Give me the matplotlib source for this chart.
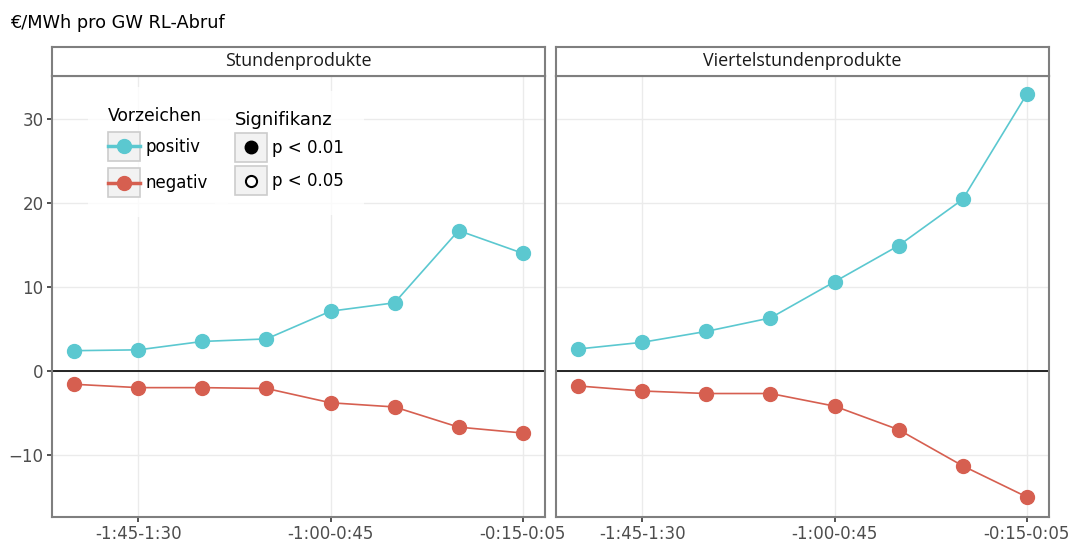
import numpy as np
import matplotlib
matplotlib.use('Agg')
import matplotlib.pyplot as plt
from matplotlib.lines import Line2D
from matplotlib.patches import Rectangle
from matplotlib.legend_handler import HandlerBase

# time slots before delivery (only every third one is labelled)
slots = ['-2:00-1:45', '-1:45-1:30', '-1:30-1:15', '-1:15-1:00',
         '-1:00-0:45', '-0:45-0:30', '-0:30-0:15', '-0:15-0:05']
panels = ['Stundenprodukte', 'Viertelstundenprodukte']

# Stundenprodukte
std_pos = [2.4, 2.5, 3.5, 3.8, 7.1, 8.1, 16.7, 14.0]
std_neg = [-1.6, -2.0, -2.0, -2.1, -3.8, -4.3, -6.7, -7.4]
# Viertelstundenprodukte
vst_pos = [2.6, 3.4, 4.7, 6.3, 10.6, 14.9, 20.4, 32.9]
vst_neg = [-1.8, -2.4, -2.7, -2.7, -4.2, -7.0, -11.3, -15.0]

series = {
    'Stundenprodukte': (std_pos, std_neg),
    'Viertelstundenprodukte': (vst_pos, vst_neg),
}

c_pos = '#5bc8d0'
c_neg = '#d65f50'
grid_c = '#ebebeb'
border_c = '#7f7f7f'
text_c = '#4d4d4d'

W, H = 1079, 542
fig = plt.figure(figsize=(W / 100, H / 100), dpi=100)


def px(x0, y0, x1, y1):
    # pixel box -> figure fraction rect
    return [x0 / W, 1 - y1 / H, (x1 - x0) / W, (y1 - y0) / H]


class BoxedKey(HandlerBase):
    # ggplot-like legend key: grey box with line and/or point on top
    def create_artists(self, legend, h, xd, yd, w, hgt, fs, trans):
        box = Rectangle((-xd, -yd), w, hgt, fc='#f2f2f2', ec='#cccccc',
                        lw=1.2, transform=trans)
        cy = -yd + hgt / 2
        out = [box]
        if h.get_linestyle() not in ('None', ''):
            out.append(Line2D([-xd, -xd + w], [cy, cy], color=h.get_color(),
                              lw=h.get_linewidth(), transform=trans))
        out.append(Line2D([-xd + w / 2], [cy], marker='o', ls='None',
                          ms=h.get_markersize(), mfc=h.get_markerfacecolor(),
                          mec=h.get_markeredgecolor(),
                          mew=h.get_markeredgewidth(), transform=trans))
        return out


x = np.arange(1, len(slots) + 1)
boxes = [(52, 545), (556, 1049)]
axes = []
for i, name in enumerate(panels):
    x0, x1 = boxes[i]
    ax = fig.add_axes(px(x0, 76, x1, 517))
    pos, neg = series[name]
    ax.axhline(0, color='black', lw=1.2, zorder=2)
    ax.plot(x, pos, color=c_pos, lw=1.2, marker='o', ms=10, zorder=3)
    ax.plot(x, neg, color=c_neg, lw=1.2, marker='o', ms=10, zorder=3)
    ax.set_xlim(0.65, 8.35)
    ax.set_ylim(-17.4, 35.1)
    ax.set_xticks(x[1::3])
    ax.set_xticklabels(slots[1::3])
    ax.set_yticks([-10, 0, 10, 20, 30])
    ax.grid(True, color=grid_c, lw=1.0, zorder=0)
    ax.set_axisbelow(True)
    for s in ax.spines.values():
        s.set_color(border_c)
        s.set_linewidth(1.5)
    ax.tick_params(colors='#333333', labelcolor=text_c, labelsize=12,
                   length=3.5, width=1.2)
    ax.tick_params(axis='x', pad=2.5)
    ax.tick_params(axis='y', pad=2.5)
    if i > 0:
        ax.tick_params(axis='y', length=0, labelleft=False)
    axes.append(ax)

    sax = fig.add_axes(px(x0, 47, x1, 76))
    sax.set_xticks([])
    sax.set_yticks([])
    for s in sax.spines.values():
        s.set_color(border_c)
        s.set_linewidth(1.5)
    sax.text(0.5, 0.5, name, ha='center', va='center', fontsize=12.9,
             family='Open Sans', color='#1a1a1a', transform=sax.transAxes)

ax = axes[0]
h_sign = [Line2D([], [], color=c_pos, lw=2.5, marker='o', ms=10, mec=c_pos),
          Line2D([], [], color=c_neg, lw=2.5, marker='o', ms=10, mec=c_neg)]
h_sig = [Line2D([], [], ls='None', marker='o', ms=9, mfc='black', mec='black'),
         Line2D([], [], ls='None', marker='o', ms=8, mfc='white', mec='black',
                mew=1.5)]

common = dict(loc='upper left', frameon=True, fancybox=False,
              handler_map={Line2D: BoxedKey()}, handlelength=1.9,
              handleheight=2.35, handletextpad=0.35,
              borderpad=1.2, borderaxespad=0, alignment='left')
leg1 = ax.legend(h_sign, ['positiv', 'negativ'], title='Vorzeichen',
                 bbox_to_anchor=((88 - 52) / 493, (517 - 87) / 441),
                 prop={'size': 12}, title_fontsize=12.3, labelspacing=0.4,
                 **common)
leg1.get_frame().set_facecolor('white')
leg1.get_frame().set_edgecolor('none')
ax.add_artist(leg1)
leg2 = ax.legend(h_sig, ['p < 0.01', 'p < 0.05'], title='Signifikanz',
                 bbox_to_anchor=((215 - 52) / 493, (517 - 91) / 441),
                 prop={'size': 12}, title_fontsize=13, labelspacing=0.22,
                 **common)
leg2.get_frame().set_facecolor('white')
leg2.get_frame().set_edgecolor('none')

fig.text(10 / W, 1 - 23 / H, '€/MWh pro GW RL-Abruf', fontsize=12.8,
         va='center', ha='left', color='black')

fig.savefig('out.png', dpi=100)
